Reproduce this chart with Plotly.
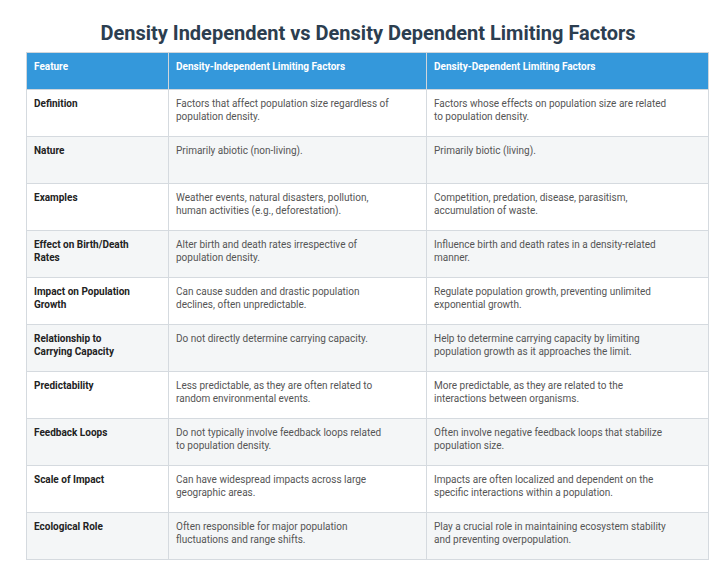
import plotly.graph_objects as go

features = ["Definition", "Nature", "Examples", "Effect on Birth/Death<br>Rates",
            "Impact on Population<br>Growth", "Relationship to<br>Carrying Capacity",
            "Predictability", "Feedback Loops", "Scale of Impact", "Ecological Role"]

independent = [
    "Factors that affect population size regardless of<br>population density.",
    "Primarily abiotic (non-living).",
    "Weather events, natural disasters, pollution,<br>human activities (e.g., deforestation).",
    "Alter birth and death rates irrespective of<br>population density.",
    "Can cause sudden and drastic population<br>declines, often unpredictable.",
    "Do not directly determine carrying capacity.",
    "Less predictable, as they are often related to<br>random environmental events.",
    "Do not typically involve feedback loops related<br>to population density.",
    "Can have widespread impacts across large<br>geographic areas.",
    "Often responsible for major population<br>fluctuations and range shifts.",
]

dependent = [
    "Factors whose effects on population size are related<br>to population density.",
    "Primarily biotic (living).",
    "Competition, predation, disease, parasitism,<br>accumulation of waste.",
    "Influence birth and death rates in a density-related<br>manner.",
    "Regulate population growth, preventing unlimited<br>exponential growth.",
    "Help to determine carrying capacity by limiting<br>population growth as it approaches the limit.",
    "More predictable, as they are related to the<br>interactions between organisms.",
    "Often involve negative feedback loops that stabilize<br>population size.",
    "Impacts are often localized and dependent on the<br>specific interactions within a population.",
    "Play a crucial role in maintaining ecosystem stability<br>and preventing overpopulation.",
]

headers = ["<b>Feature</b>", "<b>Density-Independent Limiting Factors</b>",
           "<b>Density-Dependent Limiting Factors</b>"]


def centre(txt):
    # push single-line cells down half a line so they sit mid-row
    return txt if "<br>" in txt else "<br>" + txt


row_fill = ["#ffffff" if i % 2 == 0 else "#f4f6f7" for i in range(len(features))]

fig = go.Figure(go.Table(
    domain=dict(x=[0.025, 0.973], y=[0, 0.922]),
    columnwidth=[142, 258, 282],
    header=dict(values=headers, fill_color="#3498db", line_color="#d0d6db",
                font=dict(family="Roboto", size=10, color="white"),
                align="left", height=37),
    cells=dict(values=[["<b>%s</b>" % centre(f) for f in features],
                       [centre(t) for t in independent],
                       [centre(t) for t in dependent]],
               fill_color=[row_fill] * 3, line_color="#d5dadf",
               font=dict(family="Roboto", size=10, color=["#222222", "#555555", "#555555"]),
               align="left", height=47),
))

fig.update_layout(
    width=720, height=576, margin=dict(l=0, r=0, t=0, b=0),
    paper_bgcolor="white",
    title=dict(text="<b>Density Independent vs Density Dependent Limiting Factors</b>",
               x=0.5, xanchor="center", y=0.957, yanchor="middle",
               font=dict(family="Roboto", size=20, color="#2c3e50")),
)

fig.write_html("out.html")
